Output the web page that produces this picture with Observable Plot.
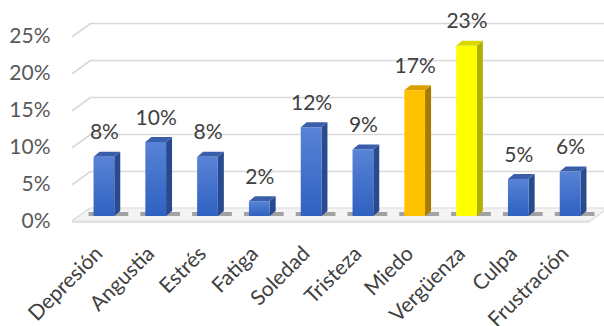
<!DOCTYPE html>
<html><head><meta charset="utf-8">
<script src="https://cdn.jsdelivr.net/npm/d3@7"></script>
<script src="https://cdn.jsdelivr.net/npm/@observablehq/plot@0.6"></script>
<style>body{margin:0;background:#fff;}</style>
</head><body><div id="chart"></div>
<script>
// ---- data ----
const categories = ["Depresión","Angustia","Estrés","Fatiga","Soledad","Tristeza","Miedo","Vergüenza","Culpa","Frustración"];
const values = [8,10,8,2,12,9,17,23,5,6];
const groups = ["blue","blue","blue","blue","blue","blue","orange","yellow","blue","blue"];
const yTicks = [0,5,10,15,20,25];

// ---- styles ----
const frontColor = {blue:"url(#gBlue)", orange:"#ffc000", yellow:"#ffff00"};
const sideColor  = {blue:"#284a8e", orange:"#a67c00", yellow:"#b0b000"};
const topColor   = {blue:"#3a5ea9", orange:"#d9a000", yellow:"#d8d800"};

const W = 604, H = 326;
const xRange = [78, 596], yRange = [216, 31];
const xDomain = [-0.5, 9.5], yDomain = [0, 25];
const pxX = (xRange[1]-xRange[0])/(xDomain[1]-xDomain[0]);
const pxY = (yRange[0]-yRange[1])/(yDomain[1]-yDomain[0]);
const ux = p => p/pxX, uy = p => p/pxY;
const xAt = px => (px - xRange[0])/pxX + xDomain[0];
const hw = 0.2;                       // half bar width (index units)
const bdx = ux(6), bdy = uy(5);       // bar depth
const wallDy = uy(8), frontDy = -uy(5); // back wall / front edge offsets

const bars = categories.map((c,i)=>({c, i, v: values[i], g: groups[i]}));
const side = bars.flatMap(d=>[
  {c:d.c, g:d.g, x:d.i+hw,     y1:0,   y2:d.v},
  {c:d.c, g:d.g, x:d.i+hw+bdx, y1:bdy, y2:d.v+bdy}]);
const top_ = bars.flatMap(d=>[
  {c:d.c, g:d.g, y:d.v,     x1:d.i-hw,     x2:d.i+hw},
  {c:d.c, g:d.g, y:d.v+bdy, x1:d.i-hw+bdx, x2:d.i+hw+bdx}]);
const grid = yTicks.filter(t=>t>0).flatMap(t=>[
  {t, x:xAt(72), y:t+frontDy},
  {t, x:xAt(90), y:t+wallDy},
  {t, x:xAt(612), y:t+wallDy}]);
const floor = [
  {y:frontDy, x1:xAt(72), x2:xAt(590)},
  {y:wallDy,  x1:xAt(90), x2:xAt(608)}];

const svg = Plot.plot({
  width: W, height: H,
  marginLeft: xRange[0], marginRight: W - xRange[1],
  marginTop: yRange[1], marginBottom: H - yRange[0],
  x: {domain: xDomain, axis: null},
  y: {domain: yDomain, axis: null},
  color: {type: "identity"},
  style: {fontFamily: "Lato, 'Open Sans', sans-serif", background: "white", overflow: "visible"},
  marks: [
    Plot.line(grid, {x:"x", y:"y", z:"t", stroke:"#d9d9d9", strokeWidth:1.6}),
    Plot.areaX(floor, {y:"y", x1:"x1", x2:"x2", fill:"#f4f4f4", stroke:"#d9d9d9", strokeWidth:1.2}),
    Plot.rect(floor.slice(0,1), {x1:"x1", x2:"x2", y1:d=>d.y, y2:d=>d.y-uy(2), fill:"#e3e3e3"}),
    Plot.rect(bars, {x1:d=>d.i-hw-ux(5), x2:d=>d.i+hw+ux(14), y1:d=>uy(0), y2:d=>uy(4), fill:"#505050", fillOpacity:0.5, ariaLabel:"shadow"}),
    Plot.areaY(side, {x:"x", y1:"y1", y2:"y2", z:"c", fill:d=>sideColor[d.g]}),
    Plot.areaX(top_, {y:"y", x1:"x1", x2:"x2", z:"c", fill:d=>topColor[d.g]}),
    Plot.rect(bars, {x1:d=>d.i-hw, x2:d=>d.i+hw, y1:d=>0, y2:"v", fill:d=>frontColor[d.g]}),
    Plot.text(bars, {x:"i", y:"v", text:d=>d.v+"%", dy:-18, lineAnchor:"bottom", fontSize:21, fill:"#404040"}),
    Plot.text(yTicks, {x:xAt(50), y:t=>t+frontDy, text:t=>t+"%", textAnchor:"end", fontSize:21, fill:"#595959"}),
    Plot.text(bars, {x:"i", y:d=>0, dx:-0.5, dy:38.5, text:"c", rotate:-45, textAnchor:"end", lineAnchor:"bottom", fontSize:21, fill:"#404040"})
  ]
});

const s = d3.select(svg);
const defs = s.insert("defs", ":first-child");
const lg = defs.append("linearGradient").attr("id","gBlue").attr("x1",0).attr("y1",0).attr("x2",0).attr("y2",1);
lg.append("stop").attr("offset",0).attr("stop-color","#5883d6");
lg.append("stop").attr("offset",1).attr("stop-color","#2f61c1");
defs.append("filter").attr("id","blur").attr("x","-20%").attr("y","-100%").attr("width","140%").attr("height","300%")
  .append("feGaussianBlur").attr("stdDeviation",2);
s.selectAll('g[aria-label="shadow"]').attr("filter","url(#blur)");
document.getElementById("chart").appendChild(svg);
</script>
</body></html>
